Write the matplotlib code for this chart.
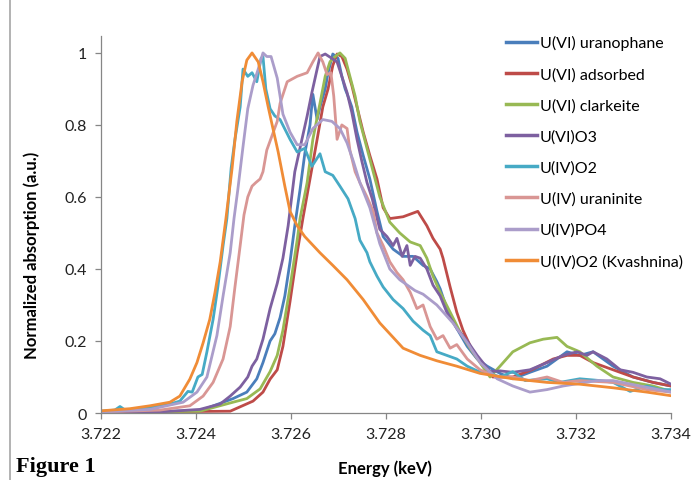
import matplotlib
matplotlib.use("Agg")
import matplotlib.pyplot as plt
from matplotlib.lines import Line2D

# energies in keV, normalized absorption
e_uranophane = [3.72200, 3.72408, 3.72478, 3.72507, 3.72528, 3.72541, 3.72556, 3.72566, 3.72577, 3.72587,
                3.72598, 3.72608, 3.72619, 3.72629, 3.72640, 3.72646, 3.72655, 3.72661, 3.72672, 3.72678,
                3.72688, 3.72699, 3.72707, 3.72714, 3.72720, 3.72728, 3.72739, 3.72752, 3.72766, 3.72781,
                3.72794, 3.72815, 3.72836, 3.72857, 3.72878, 3.72893, 3.72907, 3.72914, 3.72928, 3.72949,
                3.72971, 3.72992, 3.73013, 3.73040, 3.73067, 3.73103, 3.73139, 3.73181, 3.73208, 3.73236,
                3.73278, 3.73320, 3.73362, 3.73400]
a_uranophane = [0.002, 0.006, 0.04, 0.058, 0.095, 0.14, 0.20, 0.22, 0.265, 0.325,
                0.42, 0.52, 0.62, 0.72, 0.80, 0.885, 0.815, 0.85, 0.90, 0.945,
                0.997, 0.985, 0.935, 0.90, 0.88, 0.85, 0.78, 0.715, 0.65, 0.56,
                0.49, 0.455, 0.435, 0.435, 0.41, 0.40, 0.365, 0.345, 0.29, 0.235,
                0.185, 0.15, 0.13, 0.11, 0.095, 0.113, 0.13, 0.17, 0.16, 0.17,
                0.13, 0.10, 0.085, 0.075]

e_adsorbed = [3.72200, 3.72472, 3.72520, 3.72541, 3.72556, 3.72571, 3.72583, 3.72598, 3.72613, 3.72625,
              3.72640, 3.72655, 3.72667, 3.72678, 3.72688, 3.72697, 3.72707, 3.72718, 3.72728, 3.72739,
              3.72752, 3.72766, 3.72781, 3.72794, 3.72808, 3.72836, 3.72867, 3.72886, 3.72899, 3.72914,
              3.72920, 3.72935, 3.72949, 3.72962, 3.72983, 3.73004, 3.73025, 3.73067, 3.73107, 3.73152,
              3.73181, 3.73208, 3.73236, 3.73278, 3.73320, 3.73362, 3.73400]
a_adsorbed = [0.002, 0.005, 0.033, 0.058, 0.094, 0.12, 0.185, 0.31, 0.445, 0.54,
              0.65, 0.76, 0.85, 0.90, 0.965, 0.997, 0.99, 0.955, 0.91, 0.85,
              0.78, 0.715, 0.65, 0.57, 0.54, 0.545, 0.56, 0.52, 0.485, 0.455,
              0.43, 0.35, 0.28, 0.23, 0.17, 0.13, 0.10, 0.10, 0.12, 0.15,
              0.16, 0.16, 0.14, 0.12, 0.10, 0.085, 0.075]

e_clarkeite = [3.72200, 3.72408, 3.72478, 3.72507, 3.72535, 3.72556, 3.72571, 3.72583, 3.72598, 3.72613,
               3.72619, 3.72634, 3.72646, 3.72661, 3.72672, 3.72682, 3.72693, 3.72703, 3.72714, 3.72724,
               3.72735, 3.72745, 3.72760, 3.72773, 3.72787, 3.72808, 3.72829, 3.72851, 3.72872, 3.72886,
               3.72899, 3.72914, 3.72935, 3.72956, 3.72977, 3.72998, 3.73019, 3.73040, 3.73067, 3.73103,
               3.73131, 3.73160, 3.73181, 3.73208, 3.73244, 3.73278, 3.73320, 3.73362, 3.73400]
a_clarkeite = [0.002, 0.005, 0.03, 0.04, 0.067, 0.115, 0.16, 0.23, 0.35, 0.48,
               0.54, 0.64, 0.76, 0.86, 0.935, 0.975, 0.99, 1.0, 0.985, 0.935,
               0.88, 0.81, 0.735, 0.67, 0.60, 0.53, 0.50, 0.475, 0.465, 0.43,
               0.38, 0.335, 0.28, 0.225, 0.18, 0.14, 0.10, 0.13, 0.17, 0.195,
               0.205, 0.21, 0.185, 0.17, 0.13, 0.10, 0.085, 0.075, 0.06]

e_uo3 = [3.72200, 3.72324, 3.72408, 3.72451, 3.72472, 3.72493, 3.72509, 3.72518, 3.72528, 3.72541,
         3.72556, 3.72571, 3.72583, 3.72594, 3.72608, 3.72623, 3.72634, 3.72644, 3.72655, 3.72661,
         3.72672, 3.72686, 3.72697, 3.72707, 3.72718, 3.72728, 3.72739, 3.72749, 3.72760, 3.72771,
         3.72787, 3.72802, 3.72815, 3.72823, 3.72834, 3.72844, 3.72851, 3.72861, 3.72872, 3.72886,
         3.72899, 3.72914, 3.72928, 3.72949, 3.72971, 3.72992, 3.73004, 3.73019, 3.73040, 3.73067,
         3.73103, 3.73139, 3.73173, 3.73202, 3.73223, 3.73236, 3.73265, 3.73293, 3.73320, 3.73349,
         3.73377, 3.73400]
a_uo3 = [0.002, 0.003, 0.01, 0.025, 0.047, 0.072, 0.10, 0.13, 0.15, 0.205,
         0.29, 0.36, 0.43, 0.52, 0.67, 0.76, 0.825, 0.89, 0.955, 0.99,
         0.997, 0.985, 0.975, 0.935, 0.89, 0.835, 0.76, 0.70, 0.64, 0.595,
         0.51, 0.49, 0.465, 0.485, 0.435, 0.465, 0.41, 0.435, 0.43, 0.40,
         0.355, 0.325, 0.28, 0.235, 0.20, 0.16, 0.14, 0.115, 0.117, 0.113,
         0.12, 0.14, 0.16, 0.17, 0.16, 0.17, 0.15, 0.12, 0.113, 0.10,
         0.095, 0.08]

e_uo2 = [3.72200, 3.72229, 3.72240, 3.72251, 3.72303, 3.72345, 3.72366, 3.72383, 3.72392, 3.72404,
         3.72413, 3.72423, 3.72436, 3.72446, 3.72457, 3.72465, 3.72474, 3.72482, 3.72493, 3.72499,
         3.72509, 3.72518, 3.72528, 3.72537, 3.72541, 3.72547, 3.72556, 3.72566, 3.72577, 3.72598,
         3.72613, 3.72629, 3.72644, 3.72661, 3.72672, 3.72688, 3.72703, 3.72720, 3.72735, 3.72745,
         3.72760, 3.72766, 3.72781, 3.72794, 3.72815, 3.72836, 3.72857, 3.72878, 3.72893, 3.72907,
         3.72928, 3.72949, 3.72971, 3.72992, 3.73019, 3.73040, 3.73067, 3.73093, 3.73139, 3.73166,
         3.73208, 3.73251, 3.73278, 3.73314, 3.73349, 3.73377, 3.73400]
a_uo2 = [0.005, 0.008, 0.018, 0.008, 0.015, 0.025, 0.033, 0.06, 0.058, 0.10,
         0.107, 0.17, 0.26, 0.35, 0.465, 0.54, 0.68, 0.76, 0.85, 0.955,
         0.935, 0.945, 0.92, 0.985, 0.99, 0.90, 0.845, 0.825, 0.815, 0.76,
         0.725, 0.735, 0.685, 0.72, 0.67, 0.66, 0.63, 0.595, 0.54, 0.48,
         0.445, 0.42, 0.38, 0.35, 0.315, 0.29, 0.255, 0.23, 0.215, 0.17,
         0.16, 0.15, 0.13, 0.117, 0.11, 0.10, 0.115, 0.09, 0.095, 0.085,
         0.095, 0.09, 0.085, 0.06, 0.075, 0.065, 0.065]

e_uraninite = [3.72200, 3.72324, 3.72387, 3.72415, 3.72436, 3.72457, 3.72472, 3.72482, 3.72493, 3.72501,
               3.72509, 3.72518, 3.72526, 3.72535, 3.72541, 3.72549, 3.72560, 3.72571, 3.72577, 3.72592,
               3.72613, 3.72634, 3.72646, 3.72657, 3.72667, 3.72676, 3.72684, 3.72690, 3.72697, 3.72707,
               3.72718, 3.72724, 3.72735, 3.72745, 3.72760, 3.72773, 3.72781, 3.72794, 3.72808, 3.72823,
               3.72836, 3.72851, 3.72865, 3.72878, 3.72893, 3.72907, 3.72920, 3.72935, 3.72949, 3.72971,
               3.72998, 3.73034, 3.73067, 3.73103, 3.73139, 3.73173, 3.73208, 3.73278, 3.73349, 3.73400]
a_uraninite = [0.003, 0.008, 0.02, 0.047, 0.085, 0.15, 0.24, 0.35, 0.465, 0.55,
               0.60, 0.63, 0.64, 0.65, 0.67, 0.73, 0.77, 0.81, 0.86, 0.92,
               0.935, 0.945, 0.975, 1.0, 0.975, 0.94, 0.945, 0.88, 0.76, 0.80,
               0.79, 0.73, 0.67, 0.64, 0.60, 0.56, 0.50, 0.465, 0.42, 0.39,
               0.37, 0.335, 0.29, 0.30, 0.24, 0.205, 0.215, 0.18, 0.19, 0.15,
               0.12, 0.10, 0.10, 0.09, 0.10, 0.085, 0.09, 0.085, 0.065, 0.058]

e_po4 = [3.72200, 3.72303, 3.72373, 3.72402, 3.72423, 3.72444, 3.72457, 3.72472, 3.72480, 3.72488,
         3.72499, 3.72509, 3.72520, 3.72531, 3.72541, 3.72549, 3.72558, 3.72571, 3.72583, 3.72598,
         3.72613, 3.72629, 3.72646, 3.72667, 3.72686, 3.72703, 3.72718, 3.72731, 3.72745, 3.72766,
         3.72787, 3.72808, 3.72829, 3.72861, 3.72878, 3.72907, 3.72941, 3.72971, 3.72998, 3.73034,
         3.73067, 3.73103, 3.73139, 3.73173, 3.73244, 3.73278, 3.73335, 3.73400]
a_po4 = [0.003, 0.01, 0.03, 0.058, 0.10, 0.215, 0.325, 0.445, 0.54, 0.62,
         0.74, 0.845, 0.91, 0.955, 1.0, 0.99, 0.99, 0.93, 0.83, 0.78,
         0.745, 0.745, 0.79, 0.815, 0.81, 0.79, 0.75, 0.70, 0.64, 0.57,
         0.47, 0.40, 0.37, 0.34, 0.33, 0.30, 0.25, 0.195, 0.14, 0.095,
         0.075, 0.058, 0.065, 0.075, 0.09, 0.09, 0.075, 0.058]

e_kvashnina = [3.72200, 3.72261, 3.72303, 3.72345, 3.72366, 3.72387, 3.72402, 3.72415, 3.72429, 3.72440,
               3.72451, 3.72463, 3.72476, 3.72486, 3.72497, 3.72507, 3.72518, 3.72531, 3.72541, 3.72552,
               3.72562, 3.72573, 3.72587, 3.72598, 3.72613, 3.72629, 3.72661, 3.72688, 3.72718, 3.72752,
               3.72787, 3.72836, 3.72872, 3.72907, 3.72949, 3.72998, 3.73067, 3.73139, 3.73208, 3.73278,
               3.73349, 3.73400]
a_kvashnina = [0.006, 0.012, 0.02, 0.03, 0.047, 0.094, 0.14, 0.195, 0.26, 0.335,
               0.42, 0.54, 0.68, 0.81, 0.92, 0.98, 1.0, 0.975, 0.92, 0.85,
               0.79, 0.725, 0.63, 0.56, 0.52, 0.49, 0.445, 0.41, 0.37, 0.315,
               0.25, 0.18, 0.16, 0.145, 0.13, 0.11, 0.095, 0.085, 0.08, 0.07,
               0.058, 0.048]

labels = ["U(VI) uranophane", "U(VI) adsorbed", "U(VI) clarkeite", "U(VI)O3",
          "U(IV)O2", "U(IV) uraninite", "U(IV)PO4", "U(IV)O2 (Kvashnina)"]
colors = ["#4A7EBB", "#BE4B48", "#98B954", "#7D60A0",
          "#46AAC5", "#D99694", "#AB9DCA", "#F08C36"]

series = [(e_uranophane, a_uranophane), (e_adsorbed, a_adsorbed), (e_clarkeite, a_clarkeite),
          (e_uo3, a_uo3), (e_uo2, a_uo2), (e_uraninite, a_uraninite), (e_po4, a_po4),
          (e_kvashnina, a_kvashnina)]

xticks = [3.722, 3.724, 3.726, 3.728, 3.730, 3.732, 3.734]
yticks = [0, 0.2, 0.4, 0.6, 0.8, 1]

font = "Lato"
axis_grey = "#868686"

fig = plt.figure(figsize=(6.94, 4.81), dpi=100)
ax = fig.add_axes([101 / 694, 1 - 414 / 481, 570 / 694, 377 / 481])

for (x, y), lab, c in zip(series, labels, colors):
    ax.plot(x, y, color=c, lw=2.0, label=lab, solid_joinstyle="round")

ax.set_xlim(3.722, 3.734)
ax.set_ylim(0, 1.047)
ax.set_xticks(xticks)
ax.set_xticklabels([f"{v:.3f}" for v in xticks])
ax.set_yticks(yticks)
ax.set_yticklabels(["0", "0.2", "0.4", "0.6", "0.8", "1"])
for s in ["top", "right"]:
    ax.spines[s].set_visible(False)
for s in ["left", "bottom"]:
    ax.spines[s].set_color(axis_grey)
    ax.spines[s].set_linewidth(0.9)
ax.tick_params(axis="both", colors=axis_grey, length=4, width=0.9, direction="out",
               labelcolor="#222222", labelsize=11.5, pad=6)
for t in ax.get_xticklabels() + ax.get_yticklabels():
    t.set_fontfamily(font)

ax.set_ylabel("Normalized absorption (a.u.)", fontsize=12, fontweight="bold",
              fontfamily=font)
ax.yaxis.set_label_coords(-0.107, 0.42)
fig.text(385 / 694, 1 - 469 / 481, "Energy (keV)", fontsize=12, fontweight="bold",
         fontfamily=font, ha="center", va="center")
fig.text(16 / 694, 1 - 467 / 481, "Figure 1", fontsize=16, fontweight="bold",
         fontfamily="Liberation Serif", ha="left", va="center")

leg = fig.legend(loc="upper left", bbox_to_anchor=(500 / 694, 1 - 30 / 481), frameon=False,
                 prop={"family": font, "size": 11.5}, handlelength=1.9, handletextpad=0.2,
                 labelspacing=1.05, borderaxespad=0)
for h in leg.legend_handles:
    h.set_linewidth(2.5)

fig.add_artist(Line2D([10 / 694, 10 / 694], [0, 1], transform=fig.transFigure,
                      color="#A6A6A6", lw=1.2))

fig.savefig("out.png", dpi=100)
